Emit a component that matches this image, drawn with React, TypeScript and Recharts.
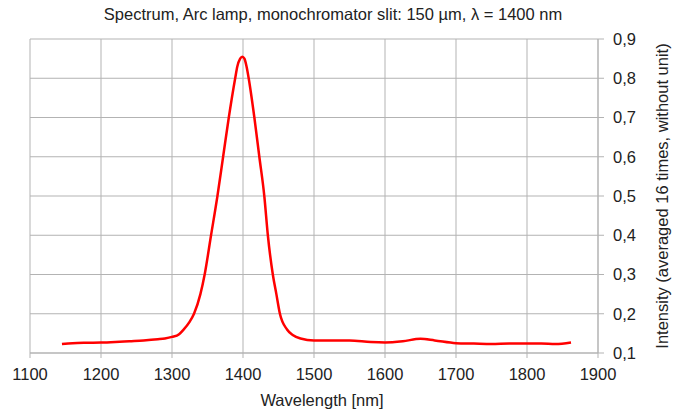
import React from 'react';
import { CartesianGrid, Label, Line, LineChart, XAxis, YAxis } from 'recharts';

const wavelengths = [
  1145, 1160, 1180, 1200, 1220, 1240, 1260, 1280, 1290, 1300, 1310, 1316, 1325, 1331, 1340,
  1346, 1355, 1364, 1372, 1380, 1389, 1392, 1396, 1399, 1402, 1405, 1408, 1416, 1423, 1430,
  1435, 1442, 1447, 1452, 1462, 1470, 1481, 1500, 1520, 1550, 1580, 1600, 1625, 1650, 1670,
  1700, 1725, 1750, 1775, 1800, 1820, 1840, 1862,
];
const intensity = [
  0.123, 0.125, 0.126, 0.1265, 0.128, 0.13, 0.132, 0.135, 0.137, 0.141, 0.148, 0.159, 0.18,
  0.2, 0.25, 0.3, 0.4, 0.5, 0.6, 0.7, 0.8, 0.83, 0.85, 0.855, 0.85, 0.83, 0.8, 0.7, 0.6, 0.5,
  0.4, 0.3, 0.25, 0.2, 0.16, 0.146, 0.137, 0.132, 0.132, 0.132, 0.128, 0.127, 0.13, 0.136,
  0.132, 0.125, 0.124, 0.123, 0.124, 0.124, 0.124, 0.123, 0.127,
];
const xTicks = [1100, 1200, 1300, 1400, 1500, 1600, 1700, 1800, 1900];
const yTicks = [0.1, 0.2, 0.3, 0.4, 0.5, 0.6, 0.7, 0.8, 0.9];

const title = 'Spectrum, Arc lamp, monochromator slit: 150 µm, λ = 1400 nm';

const data = wavelengths.map((w, i) => ({ wavelength: w, intensity: intensity[i] }));

const font = '"Liberation Sans", Arial, sans-serif';
const fontSize = 16.5;
const gridColor = '#b3b3b3';
const textColor = '#222';

export default function App() {
  return (
    <div style={{ position: 'absolute', left: 0, top: 0, width: 687, height: 412, background: '#fff', fontFamily: font }}>
      <div
        style={{
          position: 'absolute',
          left: 233,
          top: 4,
          width: 200,
          display: 'flex',
          justifyContent: 'center',
          whiteSpace: 'nowrap',
          fontSize,
          lineHeight: '20px',
          color: textColor,
        }}
      >
        {title}
      </div>
      <LineChart
        width={687}
        height={412}
        data={data}
        margin={{ top: 39, right: 0, left: 30, bottom: 0 }}
      >
        <CartesianGrid stroke={gridColor} horizontal vertical />
        <XAxis
          type="number"
          dataKey="wavelength"
          domain={[1100, 1900]}
          ticks={xTicks}
          height={59}
          stroke={gridColor}
          tickSize={5}
          tickMargin={10}
          tick={{ fill: textColor, fontSize, fontFamily: font }}
        >
          <Label
            value="Wavelength [nm]"
            position="insideBottom"
            offset={6}
            dx={8}
            style={{ fill: textColor, fontSize, fontFamily: font }}
          />
        </XAxis>
        <YAxis
          orientation="right"
          type="number"
          domain={[0.1, 0.9]}
          ticks={yTicks}
          width={89}
          stroke={gridColor}
          tickSize={6}
          tickMargin={9}
          tickFormatter={(v: number) => v.toFixed(1).replace('.', ',')}
          tick={{ fill: textColor, fontSize, fontFamily: font, textAnchor: 'start' }}
        >
          <Label
            value="Intensity (averaged 16 times, without unit)"
            angle={-90}
            position="center"
            dx={20}
            style={{ fill: textColor, fontSize, fontFamily: font, textAnchor: 'middle' }}
          />
        </YAxis>
        <Line
          type="monotone"
          dataKey="intensity"
          stroke="#ff0000"
          strokeWidth={2.5}
          dot={false}
          isAnimationActive={false}
        />
      </LineChart>
    </div>
  );
}
